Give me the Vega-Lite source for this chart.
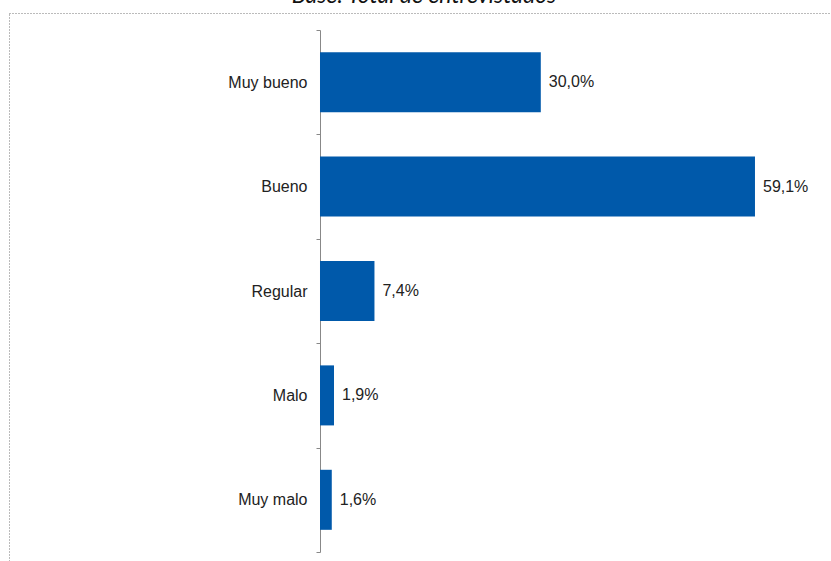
{
  "$schema": "https://vega.github.io/schema/vega-lite/v6.json",
  "autosize": {"type": "none"},
  "padding": {"left": 9, "top": 13, "right": 0, "bottom": 0},
  "width": 830,
  "height": 560,
  "title": {
    "text": "Base: Total de entrevistados",
    "font": "Lato",
    "fontStyle": "italic",
    "fontWeight": "normal",
    "fontSize": 23,
    "color": "#111111",
    "anchor": "middle",
    "baseline": "alphabetic",
    "offset": -21
  },
  "data": {
    "values": [
      {"cat": "Muy bueno", "value": 30.0, "label": "30,0%"},
      {"cat": "Bueno", "value": 59.1, "label": "59,1%"},
      {"cat": "Regular", "value": 7.4, "label": "7,4%"},
      {"cat": "Malo", "value": 1.9, "label": "1,9%"},
      {"cat": "Muy malo", "value": 1.6, "label": "1,6%"}
    ]
  },
  "encoding": {
    "y": {
      "field": "cat",
      "type": "nominal",
      "sort": ["Muy bueno", "Bueno", "Regular", "Malo", "Muy malo"],
      "scale": {"paddingInner": 0, "paddingOuter": 0, "range": [17, 539]},
      "axis": {
        "title": null,
        "orient": "left",
        "offset": -311,
        "domain": true,
        "domainColor": "#888888",
        "tickColor": "#888888",
        "tickSize": 4,
        "tickBand": "extent",
        "labelPadding": 9,
        "labelFont": "Liberation Sans",
        "labelFontSize": 16,
        "labelColor": "#222222"
      }
    },
    "x": {
      "field": "value",
      "type": "quantitative",
      "scale": {"domain": [-42.255, 70.516], "nice": false, "zero": false},
      "axis": null
    }
  },
  "layer": [
    {"mark": {"type": "bar", "color": "#0059AA", "height": {"band": 0.575}}, "encoding": {"x2": {"datum": 0}}},
    {
      "mark": {"type": "text", "align": "left", "baseline": "middle", "dx": 8, "font": "Liberation Sans", "fontSize": 16, "color": "#222222"},
      "encoding": {"text": {"field": "label"}}
    }
  ],
  "config": {
    "view": {"stroke": "#777777", "strokeDash": [1, 2], "strokeWidth": 1}
  }
}
